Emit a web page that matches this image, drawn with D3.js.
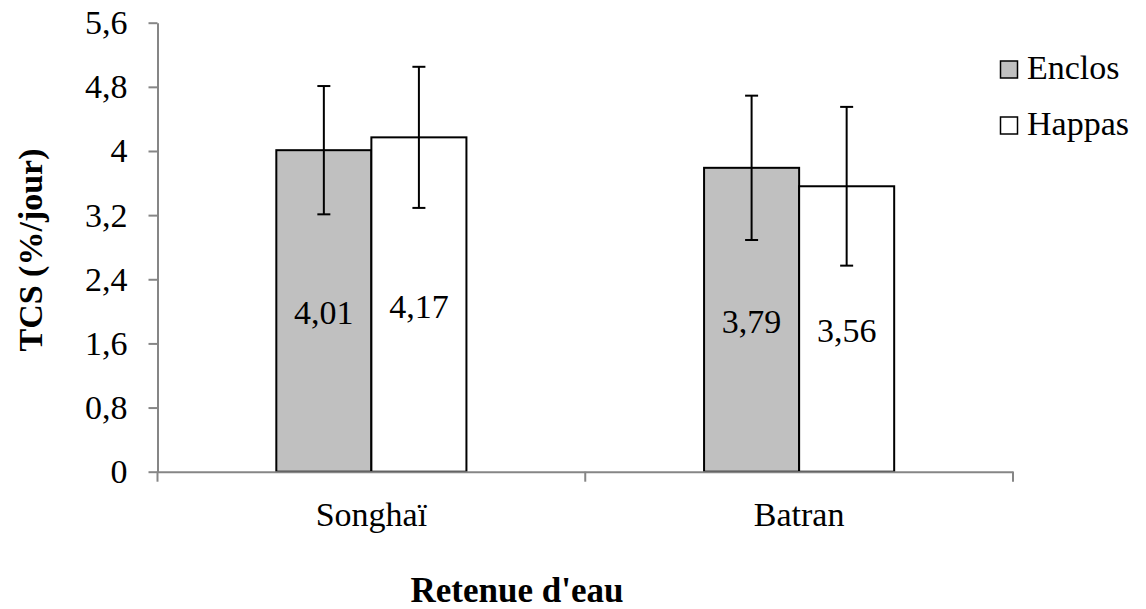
<!DOCTYPE html>
<html>
<head>
<meta charset="utf-8">
<script src="https://cdn.jsdelivr.net/npm/d3@7"></script>
<style>
  body { margin: 0; background: #fff; }
  svg { display: block; }
</style>
</head>
<body>
<svg id="chart" width="1146" height="609"></svg>
<script>
const categories = ['Songhaï', 'Batran'];
const seriesNames = ['Enclos', 'Happas'];
const enclosValues = [4.01, 3.79];
const happasValues = [4.17, 3.56];
const enclosErrors = [0.80, 0.90];
const happasErrors = [0.88, 0.99];
const yTicks = [0, 0.8, 1.6, 2.4, 3.2, 4, 4.8, 5.6];
const seriesColors = ['#c0c0c0', '#ffffff'];

const FONT = 'Liberation Serif, Times New Roman, serif';
const FS = 34;
const svg = d3.select('#chart').attr('font-family', FONT);
const margin = { top: 22.7, right: 133, bottom: 137.3, left: 157.5 };
const width = 1146 - margin.left - margin.right;
const height = 609 - margin.top - margin.bottom;
const fmt = (d) => String(d).replace('.', ',');

const rows = categories.map((c, i) => ({
  category: c,
  bars: [
    { series: seriesNames[0], value: enclosValues[i], err: enclosErrors[i] },
    { series: seriesNames[1], value: happasValues[i], err: happasErrors[i] },
  ],
}));

const x0 = d3.scaleBand().domain(categories).range([0, width]).paddingInner(0).paddingOuter(0);
const x1 = d3.scaleBand().domain(seriesNames).range([0, x0.bandwidth()]).paddingInner(0).paddingOuter(1.25);
const y = d3.scaleLinear().domain([0, 5.6]).range([height, 0]);
const color = d3.scaleOrdinal().domain(seriesNames).range(seriesColors);

const g = svg.append('g').attr('transform', `translate(${margin.left},${margin.top})`);

// y axis
const yAxis = g.append('g')
  .call(d3.axisLeft(y).tickValues(yTicks).tickFormat(fmt).tickSize(9).tickPadding(21).tickSizeOuter(0))
  .attr('font-family', FONT)
  .attr('font-size', FS);
yAxis.selectAll('line, path').attr('stroke', '#868686').attr('stroke-width', 2);
yAxis.selectAll('text').attr('fill', '#000');

// bars
const groups = g.selectAll('.group')
  .data(rows)
  .join('g')
  .attr('class', 'group')
  .attr('transform', (d) => `translate(${x0(d.category)},0)`);

groups.selectAll('rect')
  .data((d) => d.bars)
  .join('rect')
  .attr('x', (d) => x1(d.series))
  .attr('y', (d) => y(d.value))
  .attr('width', x1.bandwidth())
  .attr('height', (d) => height - y(d.value))
  .attr('fill', (d) => color(d.series))
  .attr('stroke', '#000')
  .attr('stroke-width', 2);

// value labels centred in the bars
groups.selectAll('.val')
  .data((d) => d.bars)
  .join('text')
  .attr('class', 'val')
  .attr('x', (d) => x1(d.series) + x1.bandwidth() / 2)
  .attr('y', (d) => (y(d.value) + height) / 2 + 13)
  .attr('text-anchor', 'middle')
  .attr('font-family', FONT)
  .attr('font-size', FS)
  .text((d) => fmt(d.value));

// error bars
const capHalf = 6.5;
const errs = groups.selectAll('.err')
  .data((d) => d.bars)
  .join('g')
  .attr('class', 'err')
  .attr('stroke', '#000')
  .attr('stroke-width', 2);
errs.append('line')
  .attr('x1', (d) => x1(d.series) + x1.bandwidth() / 2)
  .attr('x2', (d) => x1(d.series) + x1.bandwidth() / 2)
  .attr('y1', (d) => y(d.value + d.err))
  .attr('y2', (d) => y(d.value - d.err));
errs.selectAll('.cap')
  .data((d) => [d.value + d.err, d.value - d.err].map((v) => ({ v, cx: x1(d.series) + x1.bandwidth() / 2 })))
  .join('line')
  .attr('class', 'cap')
  .attr('x1', (d) => d.cx - capHalf)
  .attr('x2', (d) => d.cx + capHalf)
  .attr('y1', (d) => y(d.v))
  .attr('y2', (d) => y(d.v));

// x axis
const xAxis = g.append('g')
  .attr('transform', `translate(0,${height})`)
  .call(d3.axisBottom(x0).tickSize(0).tickPadding(30).tickSizeOuter(0))
  .attr('font-family', FONT)
  .attr('font-size', FS);
xAxis.select('path').attr('stroke', '#868686').attr('stroke-width', 2);
xAxis.selectAll('text').attr('fill', '#000');

const sepTicks = [0, ...categories.map((c) => x0(c) + x0.bandwidth())];
xAxis.selectAll('.sep')
  .data(sepTicks)
  .join('line')
  .attr('class', 'sep')
  .attr('x1', (d) => d)
  .attr('x2', (d) => d)
  .attr('y1', 0)
  .attr('y2', 10)
  .attr('stroke', '#868686')
  .attr('stroke-width', 2);

// axis titles
svg.append('text')
  .attr('x', 517)
  .attr('y', 602)
  .attr('text-anchor', 'middle')
  .attr('font-family', FONT)
  .attr('font-size', 35)
  .attr('font-weight', 'bold')
  .text("Retenue d'eau");

svg.append('text')
  .attr('transform', 'translate(42,250) rotate(-90)')
  .attr('text-anchor', 'middle')
  .attr('font-family', FONT)
  .attr('font-size', FS)
  .attr('font-weight', 'bold')
  .text('TCS (%/jour)');

// legend
const legend = svg.append('g').attr('transform', 'translate(1000.5,61)');
const items = legend.selectAll('g')
  .data(seriesNames)
  .join('g')
  .attr('transform', (d, i) => `translate(0,${i * 56})`);
items.append('rect')
  .attr('width', 17)
  .attr('height', 17)
  .attr('fill', (d) => color(d))
  .attr('stroke', '#000')
  .attr('stroke-width', 1.5);
items.append('text')
  .attr('x', 26.5)
  .attr('y', 17.5)
  .attr('font-family', FONT)
  .attr('font-size', FS)
  .text((d) => d);
</script>
</body>
</html>
